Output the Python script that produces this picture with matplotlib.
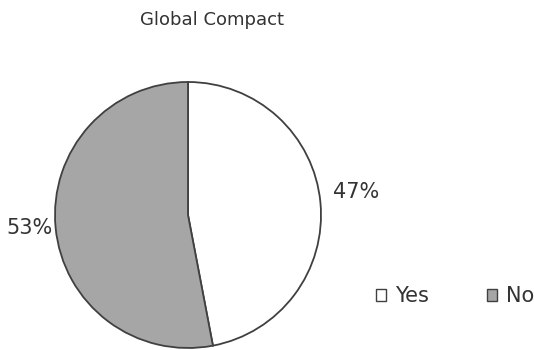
import matplotlib
matplotlib.use("Agg")
import matplotlib.pyplot as plt
from matplotlib.patches import Patch

# Data
categories = ["Yes", "No"]
shares = [47, 53]
colors = ["#ffffff", "#a6a6a6"]
title = "Global Compact"

txt = "#333333"

fig = plt.figure(figsize=(5.34, 3.5), dpi=100)
W, H = 534, 350
cx, cy, r = 188, 215, 133
pad = 1.03
ax = fig.add_axes([(cx - r * pad) / W, (H - cy - r * pad) / H, 2 * r * pad / W, 2 * r * pad / H])

wedges, texts = ax.pie(shares, colors=colors, startangle=90, counterclock=False,
                       labels=[f"{v}%" for v in shares], labeldistance=1.1,
                       wedgeprops=dict(edgecolor="#404040", linewidth=1.3),
                       textprops=dict(fontsize=15, color=txt))
# nudge the percent labels to where the reference has them
texts[0].set_position((1.09, 0.17))
texts[1].set_position((-1.02, -0.10))
ax.set_xlim(-pad, pad)
ax.set_ylim(-pad, pad)
ax.set_aspect("equal")

fig.text(212 / W, 1 - 20 / H, title, ha="center", va="center", fontsize=13, color=txt)

handles = [Patch(facecolor=c, edgecolor="#404040", linewidth=1) for c in colors]
fig.legend(handles, categories, loc="center right", bbox_to_anchor=(1.0, 1 - 296 / H),
           ncol=2, frameon=False, fontsize=15, handlelength=0.5, handleheight=0.5,
           handletextpad=0.4, columnspacing=2.8, labelcolor=txt, borderpad=0,
           borderaxespad=0)

fig.savefig("out.png", dpi=100)
